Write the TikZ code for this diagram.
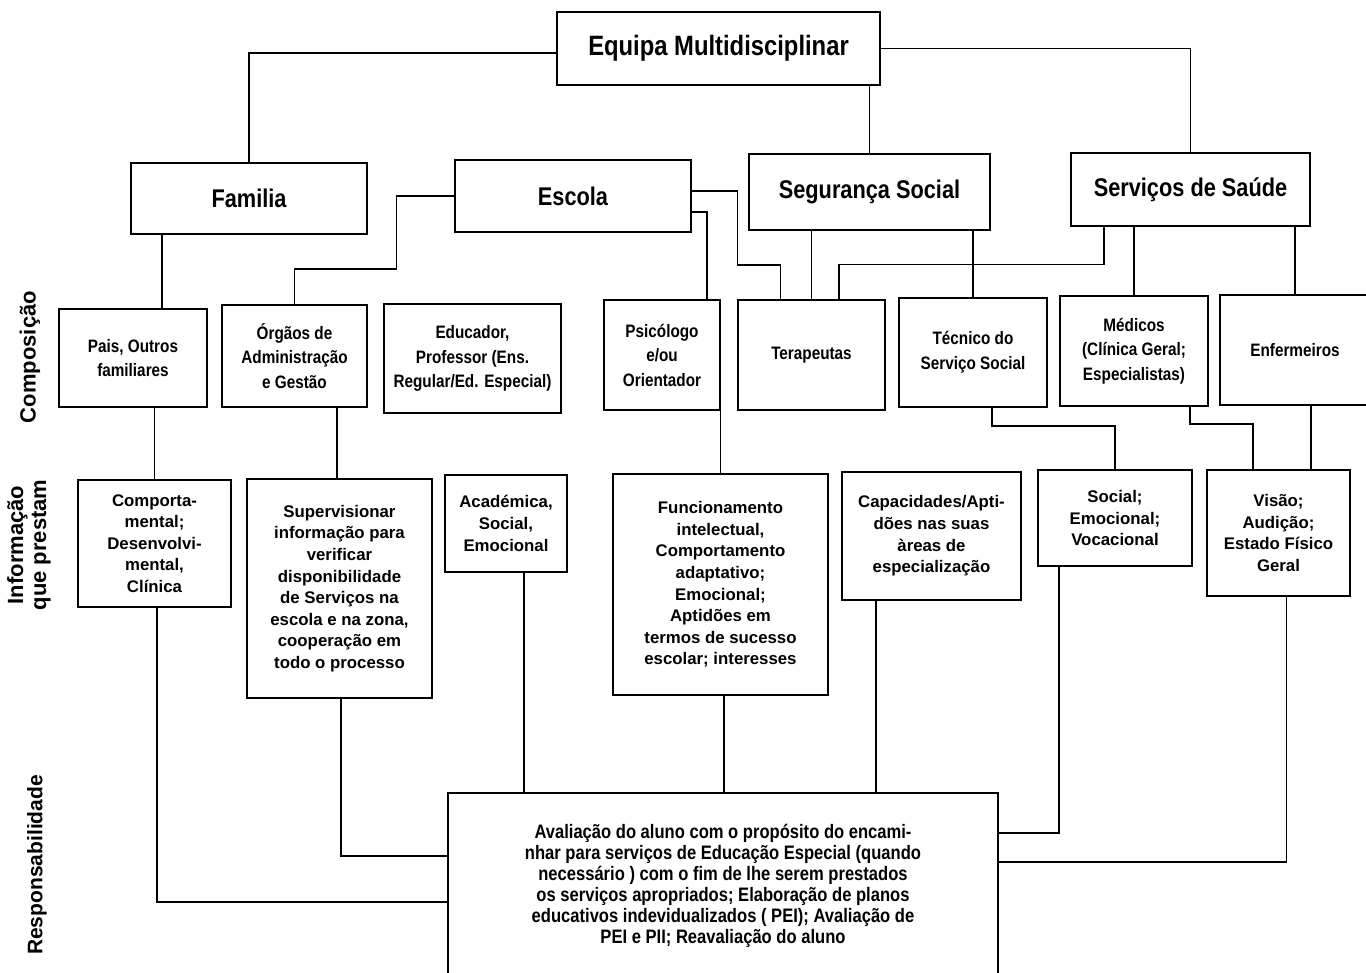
\documentclass[tikz,border=0pt]{standalone}
\usepackage{fontspec}
\setmainfont{Liberation Sans}
\newfontfamily\narrowfont{Liberation Sans}[FakeStretch=0.85]
\tikzset{
    headbox/.style={draw, line width=2.6pt, inner sep=0pt,
        font=\narrowfont\bfseries\fontsize{25.6}{30}\selectfont},
    compbox/.style={draw, line width=2.2pt, inner sep=0pt, align=center,
        font=\narrowfont\bfseries\fontsize{18}{24.5}\selectfont},
    infobox/.style={draw, line width=1.8pt, inner sep=0pt, align=center,
        font=\bfseries\fontsize{16.8}{21.6}\selectfont},
    respbox/.style={draw, line width=1.8pt, inner sep=0pt, align=center,
        font=\narrowfont\bfseries\fontsize{19.5}{21}\selectfont},
    sidelabel/.style={rotate=90, align=center,
        font=\bfseries\fontsize{22}{23}\selectfont},
    link/.style={line width=1.5pt},
}

\begin{document}
\begin{tikzpicture}[x=1pt, y=-1pt]
    \useasboundingbox (0, 0) rectangle (1366, 973);
    % side labels
    \node[sidelabel] (lblcomp) at (30, 357) {Composição};
    \node[sidelabel] (lblinfo) at (29, 545) {Informação\\que prestam};
    \node[sidelabel, font=\bfseries\fontsize{21}{23}\selectfont] (lblresp)
        at (37, 865) {Responsabilidade};
    % top levels
    \node[headbox, minimum width=323, minimum height=73,
        font=\narrowfont\bfseries\fontsize{28}{32}\selectfont] (equipa)
        at (718.5, 48.5) {Equipa Multidisciplinar};
    \node[headbox, minimum width=236, minimum height=71] (familia)
        at (249, 198.5) {Familia};
    \node[headbox, minimum width=236, minimum height=72] (escola)
        at (573, 196) {Escola};
    \node[headbox, minimum width=241, minimum height=76] (seguranca)
        at (869.5, 192) {Segurança Social};
    \node[headbox, minimum width=239, minimum height=73] (saude)
        at (1190.5, 189.5) {Serviços de Saúde};
    % composicao
    \node[compbox, minimum width=148, minimum height=98] (pais)
        at (133, 358) {Pais, Outros\\familiares};
    \node[compbox, minimum width=145, minimum height=102] (orgaos)
        at (294.5, 356) {Órgãos de\\Administração\\e Gestão};
    \node[compbox, minimum width=177, minimum height=109] (educador)
        at (472.5, 358.5) {Educador,\\Professor (Ens.\\Regular/Ed. Especial)};
    \node[compbox, minimum width=116, minimum height=110] (psicologo)
        at (662, 355) {Psicólogo\\e/ou\\Orientador};
    \node[compbox, minimum width=147, minimum height=110] (terapeutas)
        at (811.5, 355) {Terapeutas};
    \node[compbox, minimum width=148, minimum height=109] (tecnico)
        at (973, 352.5) {Técnico do\\Serviço Social};
    \node[compbox, minimum width=148, minimum height=110] (medicos)
        at (1134, 351) {Médicos\\(Clínica Geral;\\Especialistas)};
    \node[compbox, minimum width=150, minimum height=110] (enfermeiros)
        at (1295, 350) {Enfermeiros};
    % informacao que prestam
    \node[infobox, minimum width=153, minimum height=127] (infofam)
        at (154.5, 543.5) {Comporta-\\mental;\\Desenvolvi-\\mental,\\Clínica};
    \node[infobox, minimum width=185, minimum height=219] (infoorg)
        at (339.5, 588.5) {Supervisionar\\informação para\\verificar\\
        disponibilidade\\de Serviços na\\escola e na zona,\\cooperação em\\
        todo o processo};
    \node[infobox, minimum width=122, minimum height=97] (infoedu)
        at (506, 523.5) {Académica,\\Social,\\Emocional};
    \node[infobox, minimum width=215, minimum height=221] (infopsi)
        at (720.5, 584.5) {Funcionamento\\intelectual,\\Comportamento\\
        adaptativo;\\Emocional;\\Aptidões em\\termos de sucesso\\
        escolar; interesses};
    \node[infobox, minimum width=179, minimum height=128] (infoter)
        at (931.5, 536) {Capacidades/Apti-\\dões nas suas\\àreas de\\
        especialização};
    \node[infobox, minimum width=154, minimum height=96] (infotec)
        at (1115, 518) {Social;\\Emocional;\\Vocacional};
    \node[infobox, minimum width=143, minimum height=126] (infosau)
        at (1278.5, 533) {Visão;\\Audição;\\Estado Físico\\Geral};
    % responsabilidade
    \node[respbox, minimum width=550, minimum height=185] (avaliacao)
        at (723, 885.5) {Avaliação do aluno com o propósito do encami-\\
        nhar para serviços de Educação Especial (quando\\
        necessário ) com o fim de lhe serem prestados\\
        os serviços apropriados; Elaboração de planos\\
        educativos indevidualizados ( PEI); Avaliação de\\
        PEI e PII; Reavaliação do aluno};
    % links between levels
    \draw[link] ([yshift=-4.5]equipa.west) -| (familia.north);
    \draw[link] (seguranca.north) -- (seguranca.north |- equipa.south);
    \draw[link] (equipa.east) -| (saude.north);
    \draw[link] ([xshift=29]pais.north) -- ([xshift=29]pais.north |- familia.south);
    \draw[link] (escola.west) -| ++(-57, 73) -| (orgaos.north);
    \draw[link] ([yshift=5]escola.east) -| ++(45, 74)
        -| ([xshift=-31]terapeutas.north);
    \draw[link] ([yshift=-16]escola.east) -| ([xshift=45]psicologo.north);
    \draw[link] (terapeutas.north) -- (terapeutas.north |- seguranca.south);
    \draw[link] (tecnico.north) -- (tecnico.north |- seguranca.south);
    \draw[link] ([xshift=-86.5]saude.south) -- ++(0, 37)
        -| ([xshift=27.5]terapeutas.north);
    \draw[link] (medicos.north) -- (medicos.north |- saude.south);
    \draw[link] (enfermeiros.north) -- (enfermeiros.north |- saude.south);
    \draw[link] (infofam.north) -- (infofam.north |- pais.south);
    \draw[link] ([xshift=-2.5]infoorg.north) -- ([xshift=-2.5]infoorg.north |- orgaos.south);
    \draw[link] (infopsi.north) -- (infopsi.north |- psicologo.south);
    \draw[link] ([xshift=19]tecnico.south) -- ++(0, 18) -| (infotec.north);
    \draw[link] ([xshift=56]medicos.south) -- ++(0, 17)
        -| ([xshift=-25.5]infosau.north);
    \draw[link] ([xshift=32.5]infosau.north)
        -- ([xshift=32.5]infosau.north |- enfermeiros.south);
    \draw[link] ([xshift=2.5]infofam.south) |- ([yshift=-16.5]avaliacao.west);
    \draw[link] ([xshift=1.5]infoorg.south) |- ([yshift=29.5]avaliacao.west);
    \draw[link] ([xshift=18]infoedu.south) -- ([xshift=18]infoedu.south |- avaliacao.north);
    \draw[link] ([xshift=3.5]infopsi.south) -- ([xshift=3.5]infopsi.south |- avaliacao.north);
    \draw[link] ([xshift=-55.5]infoter.south) -- ([xshift=-55.5]infoter.south |- avaliacao.north);
    \draw[link] ([xshift=-56]infotec.south) |- ([yshift=52.5]avaliacao.east);
    \draw[link] ([xshift=8]infosau.south) |- ([yshift=23.5]avaliacao.east);
\end{tikzpicture}
\end{document}
